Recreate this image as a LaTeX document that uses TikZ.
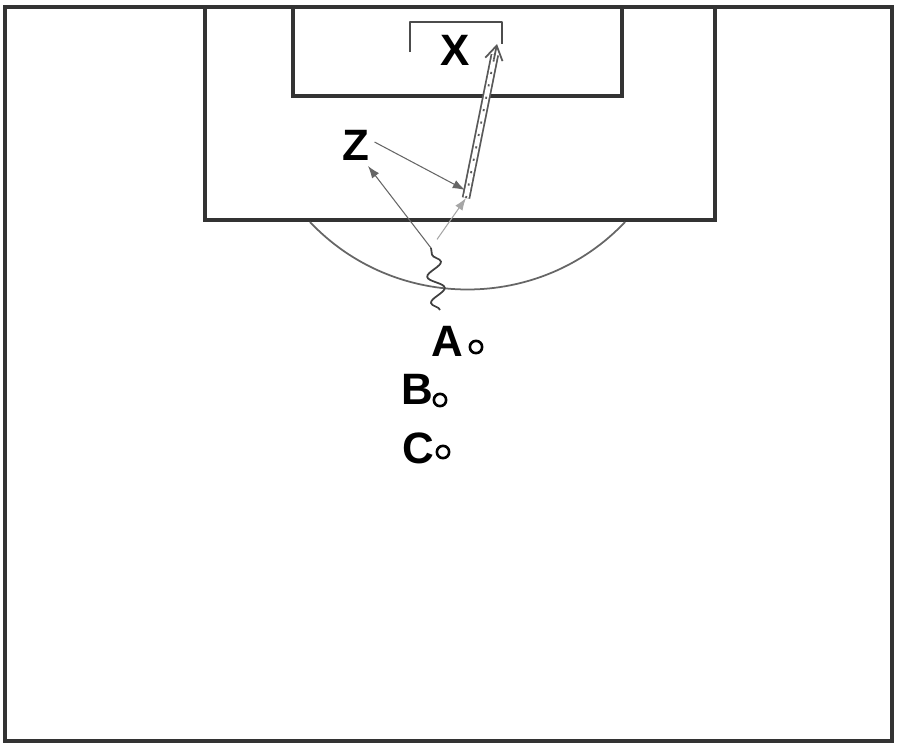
\documentclass[tikz,border=0pt]{standalone}
\usepackage{fontspec}
\setsansfont{Liberation Sans}
\usetikzlibrary{arrows.meta,decorations.pathmorphing,calc}
\tikzset{
  pitchline/.style={draw=black!80, line width=1.8pt},
  arcline/.style={draw=black!60, line width=1pt},
  goalline/.style={draw=black!70, line width=1.5pt, line join=round},
  player/.style={font=\sffamily\bfseries\fontsize{25}{25}\selectfont, inner sep=1pt},
  cone/.style={circle, draw, line width=1.5pt, minimum size=7pt, inner sep=0pt},
  pass/.style={draw=black!60, line width=0.6pt, -{Latex[length=7pt,width=5pt]}},
  run/.style={draw=black!35, line width=0.6pt, -{Latex[length=7pt,width=5pt]}},
  dribble/.style={draw=black!75, line width=1pt, decorate,
    decoration={snake, amplitude=4.5pt, segment length=15pt}},
  shotline/.style={draw=black!65, line width=1pt, double=white, double distance=2.8pt},
}
\begin{document}
\begin{tikzpicture}[x=0.02cm,y=-0.02cm]
  \useasboundingbox (0,0) rectangle (900,747);
  \draw [pitchline] (5,7) rectangle (892,741);
  \draw [pitchline] (205,7) -- (205,220) -- (715,220) -- (715,7);
  \draw [pitchline] (293,7) -- (293,96) -- (622,96) -- (622,7);
  \draw [arcline] (310,222) .. controls (395,312) and (540,312) .. (625,222);
  \draw [goalline] (410,52) -- (410,22) -- (502,22) -- (502,44);

  \node [player] (X) at (455,50) {X};
  \node [player] (Z) at (356,145) {Z};
  \node [player] (A) at (447,341) {A};
  \node [cone] (a) at (476,347) {};
  \node [player] (B) at (417,389) {B};
  \node [cone] (b) at (440,400) {};
  \node [player] (C) at (418,448) {C};
  \node [cone] (c) at (443,452) {};

  \coordinate (start) at (440,310);
  \coordinate (turn) at (431,248);
  \coordinate (zfoot) at (368,166);
  \coordinate (receive) at (465,190);
  \coordinate (shot) at (466,198);
  \coordinate (target) at (497,44);

  \draw [dribble] (start) -- (turn);
  \draw [pass] (turn) -- (zfoot);
  \draw [pass] (Z.east) ++(3,-3) -- (receive);
  \draw [run, shorten <=6pt] (turn) -- (shot);
  \draw [shotline] (shot) -- ($(shot)!0.93!(target)$);
  \draw [draw=black!65, line width=1pt, dash pattern=on 1.2pt off 6pt] (shot) -- ($(shot)!0.93!(target)$);
  \draw [draw=black!65, line width=1pt, -{Straight Barb[length=8pt,width=10pt]}] ($(shot)!0.9!(target)$) -- (target);
\end{tikzpicture}
\end{document}
